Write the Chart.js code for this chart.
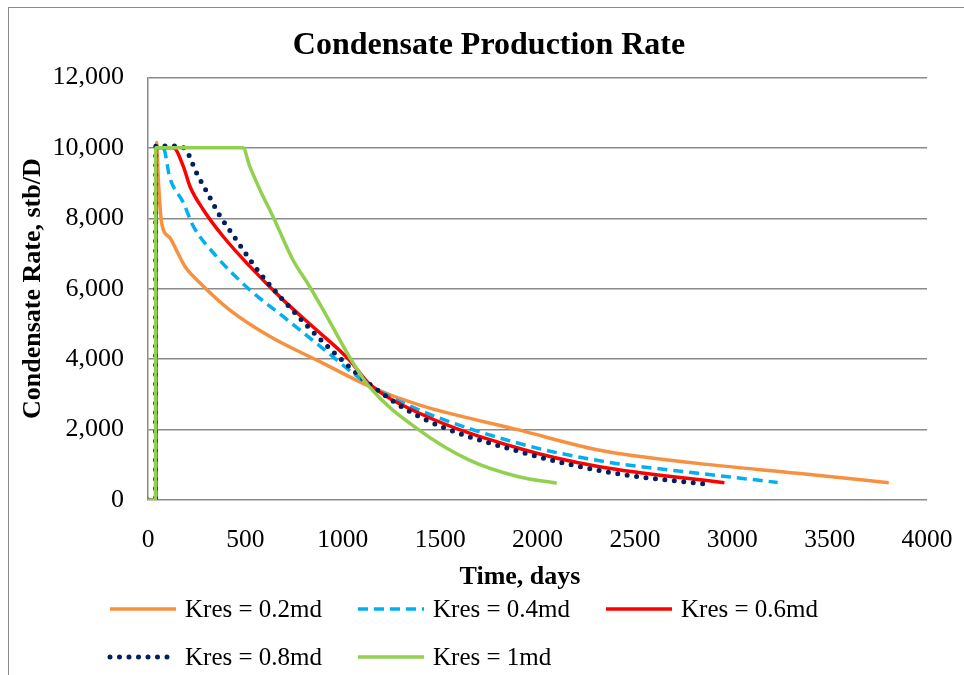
<!DOCTYPE html>
<html>
<head>
<meta charset="utf-8">
<script src="https://cdn.jsdelivr.net/npm/chart.js@4/dist/chart.umd.min.js"></script>
<style>
  html, body { margin: 0; padding: 0; background: #ffffff; }
  #wrap { position: relative; width: 964px; height: 675px; overflow: hidden; }
  #frame { position: absolute; left: 8px; top: 7px; width: 1000px; height: 700px; border: 1.5px solid #8a8a8a; box-sizing: border-box; }
  #chart { position: absolute; left: 0; top: 0; }
</style>
</head>
<body>
<div id="wrap">
  <div id="frame"></div>
  <canvas id="chart" width="964" height="675"></canvas>
</div>
<script>
// Condensate rate (stb/D) against time (days) for each reservoir permeability case
const seriesLabels = ['Kres = 0.2md', 'Kres = 0.4md', 'Kres = 0.6md', 'Kres = 0.8md', 'Kres = 1md'];

const k02Days = [0, 40, 44, 53, 70, 112, 150, 189, 266, 419, 624, 880, 1136, 1391, 1903, 2312, 2824, 3335, 3804];
const k02Rate = [0, 0, 10150, 9100, 7870, 7450, 7050, 6640, 6170, 5400, 4650, 3935, 3230, 2700, 1990, 1420, 1040, 760, 490];

const k04Days = [0, 40, 42, 78, 112, 181, 232, 351, 522, 692, 863, 1136, 1391, 1903, 2312, 2824, 3233];
const k04Rate = [0, 0, 10000, 10000, 9150, 8450, 7780, 6920, 5970, 5220, 4460, 3270, 2560, 1610, 1120, 760, 500];

const k06Days = [0, 40, 42, 130, 181, 215, 283, 385, 522, 692, 863, 1033, 1136, 1391, 1903, 2312, 2960];
const k06Rate = [0, 0, 10000, 10000, 9480, 8910, 8250, 7490, 6640, 5690, 4840, 3980, 3300, 2470, 1470, 950, 490];

const k08Days = [0, 38, 40, 155, 198, 249, 309, 368, 436, 504, 573, 692, 820, 948, 1136, 1391, 1903, 2372, 2854];
const k08Rate = [0, 0, 10050, 10050, 9910, 9290, 8680, 8080, 7530, 6980, 6450, 5690, 4930, 4220, 3300, 2370, 1380, 780, 455];

const k10Days = [0, 38, 40, 488, 522, 590, 641, 743, 829, 914, 1033, 1136, 1391, 1647, 1903, 2099];
const k10Rate = [0, 0, 10000, 10000, 9480, 8630, 8060, 6830, 6070, 5260, 4080, 3220, 1990, 1140, 660, 475];

const xTicks = [0, 500, 1000, 1500, 2000, 2500, 3000, 3500, 4000];
const yTicks = [0, 2000, 4000, 6000, 8000, 10000, 12000];

const seriesDays = [k02Days, k04Days, k06Days, k08Days, k10Days];
const seriesRate = [k02Rate, k04Rate, k06Rate, k08Rate, k10Rate];

const styles = [
  { color: '#F8913F', width: 3.5, dash: [], cap: 'butt' },
  { color: '#00B0F0', width: 3.5, dash: [10, 6], cap: 'butt' },
  { color: '#FF0000', width: 3.5, dash: [], cap: 'butt' },
  { color: '#002060', width: 5, dash: [0, 9.5], cap: 'round' },
  { color: '#92D050', width: 3.5, dash: [], cap: 'butt' }
];

const toPoints = (days, rate) => days.map((d, i) => ({ x: d, y: rate[i] }));

const datasets = seriesLabels.map((label, i) => ({
  label,
  data: toPoints(seriesDays[i], seriesRate[i]),
  borderColor: styles[i].color,
  backgroundColor: styles[i].color,
  borderWidth: styles[i].width,
  borderDash: styles[i].dash,
  borderCapStyle: styles[i].cap,
  borderJoinStyle: 'round',
  pointRadius: 0,
  fill: false,
  cubicInterpolationMode: 'monotone',
  order: seriesLabels.length - 1 - i
}));

const serif = "'Liberation Serif', 'Times New Roman', serif";
const xAxisTitle = 'Time, days';

// Two-row legend with fixed columns, plus the time-axis caption
const gridLegend = {
  id: 'gridLegend',
  afterDraw(chart) {
    const ctx = chart.ctx;
    const cols = [110, 358, 606];
    const rows = [609, 657];
    const sampleLen = 66;
    ctx.save();
    ctx.font = 'bold 26px ' + serif;
    ctx.fillStyle = '#000000';
    ctx.textAlign = 'center';
    ctx.textBaseline = 'middle';
    ctx.fillText(xAxisTitle, 520, 577);

    ctx.font = '25px ' + serif;
    ctx.textAlign = 'left';
    chart.data.datasets.forEach((ds, i) => {
      const x = cols[i % 3];
      const y = rows[Math.floor(i / 3)];
      ctx.beginPath();
      ctx.strokeStyle = ds.borderColor;
      ctx.lineWidth = ds.borderWidth;
      ctx.setLineDash(ds.borderDash || []);
      ctx.lineCap = ds.borderCapStyle;
      ctx.moveTo(x, y);
      ctx.lineTo(x + sampleLen, y);
      ctx.stroke();
      ctx.setLineDash([]);
      ctx.fillStyle = '#000000';
      ctx.fillText(ds.label, x + sampleLen + 9, y + 1);
    });
    ctx.restore();
  }
};

new Chart(document.getElementById('chart'), {
  type: 'line',
  data: { datasets },
  options: {
    responsive: false,
    animation: false,
    layout: { padding: { left: 14, right: 0, top: 10, bottom: 81 } },
    plugins: {
      legend: { display: false },
      tooltip: { enabled: false },
      title: {
        display: true,
        text: 'Condensate Production Rate',
        color: '#000000',
        font: { family: serif, size: 32, weight: 'bold' },
        padding: { top: 17, bottom: 12 }
      }
    },
    scales: {
      x: {
        type: 'linear',
        min: 0,
        max: 4000,
        afterBuildTicks: (s) => { s.ticks = xTicks.map(v => ({ value: v })); },
        afterFit: (s) => { s.height = 94; s.paddingLeft = 0; s.paddingRight = 0; },
        grid: { display: false, drawTicks: false },
        border: { display: false },
        ticks: {
          color: '#000000',
          font: { family: serif, size: 25.5 },
          padding: 25,
          maxRotation: 0,
          callback: (v) => String(v)
        }
      },
      y: {
        type: 'linear',
        min: 0,
        max: 12000,
        afterBuildTicks: (s) => { s.ticks = yTicks.map(v => ({ value: v })); },
        afterFit: (s) => { s.width = 134; },
        grid: { color: '#8a8a8a', lineWidth: 1.5, drawTicks: false },
        border: { display: true, color: '#8a8a8a', width: 1.5 },
        ticks: {
          color: '#000000',
          font: { family: serif, size: 26 },
          padding: 24,
          callback: (v) => v.toLocaleString('en-US')
        },
        title: {
          display: true,
          text: 'Condensate Rate, stb/D',
          color: '#000000',
          font: { family: serif, size: 26, weight: 'bold' },
          padding: { top: 4, bottom: 0 }
        }
      },
      // empty right-hand strip that keeps the plot clear of the frame edge
      yRight: {
        type: 'linear',
        position: 'right',
        display: true,
        afterFit: (s) => { s.width = 37; },
        grid: { display: false, drawTicks: false },
        border: { display: false },
        ticks: { display: false }
      }
    }
  },
  plugins: [gridLegend]
});
</script>
</body>
</html>
